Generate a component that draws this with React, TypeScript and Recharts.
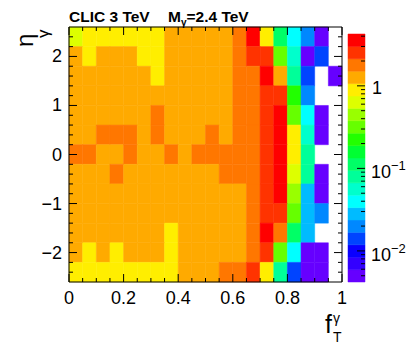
import React from 'react';
import { ComposedChart, XAxis, YAxis, ReferenceArea } from 'recharts';

// ---- bins ----
const F_EDGES = [0, 0.05, 0.1, 0.15, 0.2, 0.25, 0.3, 0.35, 0.4, 0.45, 0.5, 0.55, 0.6, 0.65, 0.7, 0.75, 0.8, 0.85, 0.9, 0.95, 1];
const ETA_EDGES = [2.6, 2.2, 1.8, 1.4, 1.0, 0.6, 0.2, -0.2, -0.6, -1.0, -1.4, -1.8, -2.2, -2.6];

// ---- bin contents, one array per eta row (top to bottom), f_T bins left to right ----
const ROW_ETA_2p2_2p6 = [0.63, 0.9, 0.9, 0.9, 0.9, 0.9, 0.9, 1.27, 1.27, 1.27, 1.27, 1.27, 1.8, 3.6, 0.9, 0.11, 0.04, 0.02, 0.005, 0];
const ROW_ETA_1p8_2p2 = [1.27, 0.9, 1.27, 1.27, 1.27, 0.9, 0.9, 1.27, 1.27, 1.27, 1.27, 1.27, 1.8, 2.5, 2.5, 0.32, 0.056, 0.005, 0.014, 0];
const ROW_ETA_1p4_1p8 = [1.27, 1.27, 1.27, 1.27, 1.27, 1.27, 0.9, 1.27, 1.27, 1.27, 1.27, 1.27, 1.8, 1.8, 3.6, 1.27, 0.08, 0.014, 0, 0.005];
const ROW_ETA_1p0_1p4 = [1.27, 1.27, 1.27, 1.27, 1.27, 1.27, 1.27, 1.27, 1.27, 1.27, 1.27, 1.27, 1.8, 1.8, 2.5, 2.5, 0.22, 0.02, 0, 0];
const ROW_ETA_0p6_1p0 = [1.27, 1.27, 1.27, 1.27, 1.27, 1.27, 1.8, 1.27, 1.27, 1.27, 1.27, 1.27, 1.8, 1.8, 2.5, 3.6, 0.32, 0.04, 0.005, 0];
const ROW_ETA_0p2_0p6 = [1.27, 1.27, 1.8, 1.8, 1.8, 1.27, 1.8, 1.27, 1.27, 1.27, 1.8, 1.27, 1.8, 1.8, 2.5, 3.6, 0.9, 0.056, 0.005, 0];
const ROW_ETA_m0p2_0p2 = [1.8, 1.8, 1.27, 1.27, 1.8, 1.27, 1.27, 1.8, 1.27, 1.8, 1.8, 1.8, 1.8, 1.8, 2.5, 3.6, 0.9, 0.08, 0, 0];
const ROW_ETA_m0p6_m0p2 = [1.27, 1.27, 1.27, 1.8, 1.27, 1.27, 1.27, 1.27, 1.27, 1.27, 1.27, 1.8, 1.8, 1.8, 2.5, 3.6, 0.63, 0.08, 0.005, 0];
const ROW_ETA_m1p0_m0p6 = [1.27, 1.27, 1.27, 1.27, 1.27, 1.27, 1.27, 1.27, 1.27, 1.27, 1.27, 1.27, 1.27, 1.8, 2.5, 3.6, 0.45, 0.028, 0.005, 0];
const ROW_ETA_m1p4_m1p0 = [1.27, 1.27, 1.27, 1.27, 1.27, 1.27, 1.27, 1.27, 1.27, 1.27, 1.27, 1.27, 1.27, 1.8, 2.5, 2.5, 0.32, 0.028, 0.02, 0];
const ROW_ETA_m1p8_m1p4 = [1.27, 1.27, 1.27, 1.27, 1.27, 1.27, 1.27, 0.9, 1.27, 1.27, 1.27, 1.27, 1.27, 1.8, 3.6, 1.8, 0.11, 0.028, 0, 0];
const ROW_ETA_m2p2_m1p8 = [1.27, 0.9, 1.27, 0.9, 1.27, 1.27, 1.27, 0.9, 1.27, 1.27, 1.27, 1.27, 1.27, 1.8, 2.5, 0.32, 0.04, 0.005, 0.005, 0];
const ROW_ETA_m2p6_m2p2 = [0.9, 0.9, 0.9, 0.9, 0.9, 0.9, 0.9, 0.9, 1.27, 1.27, 1.27, 1.8, 1.8, 2.5, 0.9, 0.08, 0.014, 0.005, 0.005, 0];

const ROWS = [
  ROW_ETA_2p2_2p6, ROW_ETA_1p8_2p2, ROW_ETA_1p4_1p8, ROW_ETA_1p0_1p4, ROW_ETA_0p6_1p0,
  ROW_ETA_0p2_0p6, ROW_ETA_m0p2_0p2, ROW_ETA_m0p6_m0p2, ROW_ETA_m1p0_m0p6, ROW_ETA_m1p4_m1p0,
  ROW_ETA_m1p8_m1p4, ROW_ETA_m2p2_m1p8, ROW_ETA_m2p6_m2p2,
];

// ---- axis ticks ----
const X_TICKS = [0, 0.05, 0.1, 0.15, 0.2, 0.25, 0.3, 0.35, 0.4, 0.45, 0.5, 0.55, 0.6, 0.65, 0.7, 0.75, 0.8, 0.85, 0.9, 0.95, 1];
const X_MAJOR = [0, 0.2, 0.4, 0.6, 0.8, 1];
const X_LABELS = ['0', '0.2', '0.4', '0.6', '0.8', '1'];
const Y_TICKS = [-2.4, -2.2, -2, -1.8, -1.6, -1.4, -1.2, -1, -0.8, -0.6, -0.4, -0.2, 0, 0.2, 0.4, 0.6, 0.8, 1, 1.2, 1.4, 1.6, 1.8, 2, 2.2, 2.4];
const Y_MAJOR = [-2, -1, 0, 1, 2];
const Y_LABELS = ['\u22122', '\u22121', '0', '1', '2'];

// ---- colour scale ----
const Z_MIN = 0.0042;
const Z_MAX = 4.25;
const PALETTE = [
  '#6600ff', '#3300ff', '#0a00ff', '#0044ff', '#0088ff', '#00bbff', '#00ffff', '#00ffcc', '#00ff99', '#00ff66',
  '#00ff33', '#22ff00', '#66ff00', '#99ff00', '#ddff00', '#ffee00', '#ffaa00', '#ff7700', '#ff3300', '#ff0000',
];
const Z_MAJOR = [0.01, 0.1, 1];
const Z_MAJOR_EXP = [-2, -1, 0];
const Z_MINOR = [0.005, 0.006, 0.007, 0.008, 0.009, 0.02, 0.03, 0.04, 0.05, 0.06, 0.07, 0.08, 0.09, 0.2, 0.3, 0.4, 0.5, 0.6, 0.7, 0.8, 0.9, 2, 3, 4];

const LMIN = Math.log10(Z_MIN);
const LMAX = Math.log10(Z_MAX);
const NB = PALETTE.length;
const colorFor = (v: number) => {
  let k = Math.floor(((Math.log10(v) - LMIN) / (LMAX - LMIN)) * NB);
  if (k < 0) k = 0;
  if (k > NB - 1) k = NB - 1;
  return PALETTE[k];
};
const BAND_EDGES = PALETTE.map((_, k) => Math.pow(10, LMIN + ((LMAX - LMIN) * k) / NB)).concat([Z_MAX]);

// ---- layout ----
const W = 407;
const H = 344;
const PL = 69;
const PR = 342;
const PT = 27;
const PB = 282;
const BAR_T = 34;
const BAR_L = 348;
const BAR_R = 365;
const FONT = '"Liberation Sans", Arial, Helvetica, sans-serif';
const TICK_FS = 18;

const isIn = (v: number, arr: number[]) => arr.findIndex((m) => Math.abs(m - v) < 1e-6);

const XTick = (props: any) => {
  const x = props.x;
  const v = props.payload.value;
  const i = isIn(v, X_MAJOR);
  const len = i >= 0 ? 8 : 4;
  return (
    <g>
      <line x1={x} x2={x} y1={PB} y2={PB - len} stroke="#000" strokeWidth={1} />
      <line x1={x} x2={x} y1={PT} y2={PT + len} stroke="#000" strokeWidth={1} />
      {i >= 0 ? (
        <text x={x} y={PB + 22} textAnchor="middle" fontSize={TICK_FS} fontFamily={FONT} fill="#000">
          {X_LABELS[i]}
        </text>
      ) : null}
    </g>
  );
};

const YTick = (props: any) => {
  const y = props.y;
  const v = props.payload.value;
  const i = isIn(v, Y_MAJOR);
  const len = i >= 0 ? 8 : 4;
  return (
    <g>
      <line x1={PL} x2={PL + len} y1={y} y2={y} stroke="#000" strokeWidth={1} />
      <line x1={PR} x2={PR - len} y1={y} y2={y} stroke="#000" strokeWidth={1} />
      {i >= 0 ? (
        <text x={PL - 7} y={y + 6} textAnchor="end" fontSize={TICK_FS} fontFamily={FONT} fill="#000">
          {Y_LABELS[i]}
        </text>
      ) : null}
    </g>
  );
};

const ZTick = (props: any) => {
  const y = props.y;
  const v = props.payload.value;
  const i = isIn(v, Z_MAJOR);
  const len = i >= 0 ? 8 : 4;
  return (
    <g>
      <line x1={BAR_R} x2={BAR_R - len} y1={y} y2={y} stroke="#000" strokeWidth={1} />
      {i >= 0 ? (
        Z_MAJOR_EXP[i] === 0 ? (
          <text x={BAR_R + 7} y={y + 8} fontSize={TICK_FS} fontFamily={FONT} fill="#000">1</text>
        ) : (
          <text x={BAR_R + 6} y={y + 10} fontSize={TICK_FS} fontFamily={FONT} fill="#000">
            10
            <tspan dy={-8} fontSize={13}>{'\u2212' + String(-Z_MAJOR_EXP[i])}</tspan>
          </text>
        )
      ) : null}
    </g>
  );
};

export default function App() {
  const cells: React.ReactNode[] = [];
  ROWS.forEach((row, r) => {
    row.forEach((v, c) => {
      if (v > 0) {
        const col = colorFor(v);
        cells.push(
          <ReferenceArea
            key={`c-${r}-${c}`}
            x1={F_EDGES[c]}
            x2={F_EDGES[c + 1]}
            y1={ETA_EDGES[r + 1]}
            y2={ETA_EDGES[r]}
            fill={col}
            fillOpacity={1}
            stroke={col}
            strokeWidth={0.5}
            ifOverflow="visible"
          />
        );
      }
    });
  });

  return (
    <div style={{ position: 'absolute', left: 0, top: 0, width: W, height: H, background: '#fff' }}>
      <div style={{ position: 'absolute', left: 0, top: 0 }}>
        <ComposedChart width={W} height={H} margin={{ top: PT, right: W - PR, left: 0, bottom: 0 }}>
          {cells}
          <ReferenceArea x1={0} x2={1} y1={-2.6} y2={2.6} fill="none" fillOpacity={0} stroke="#000" strokeWidth={1} ifOverflow="visible" />
          <XAxis
            type="number"
            dataKey="x"
            domain={[0, 1]}
            allowDataOverflow
            ticks={X_TICKS}
            interval={0}
            height={H - PB}
            tickSize={0}
            tickMargin={0}
            tickLine={false}
            axisLine={false}
            tick={<XTick />}
          />
          <YAxis
            type="number"
            dataKey="y"
            domain={[-2.6, 2.6]}
            allowDataOverflow
            ticks={Y_TICKS}
            interval={0}
            width={PL}
            tickSize={0}
            tickMargin={0}
            tickLine={false}
            axisLine={false}
            tick={<YTick />}
          />
        </ComposedChart>
      </div>
      <div style={{ position: 'absolute', left: 0, top: 0 }}>
        <ComposedChart width={W} height={H} margin={{ top: BAR_T, right: 0, left: BAR_L, bottom: H - PB }}>
          {PALETTE.map((col, k) => (
            <ReferenceArea
              key={`b-${k}`}
              x1={0}
              x2={1}
              y1={BAND_EDGES[k]}
              y2={BAND_EDGES[k + 1]}
              fill={col}
              fillOpacity={1}
              stroke={col}
              strokeWidth={0.5}
              ifOverflow="visible"
            />
          ))}
          <XAxis type="number" dataKey="x" domain={[0, 1]} hide allowDataOverflow />
          <YAxis
            type="number"
            dataKey="z"
            scale="log"
            orientation="right"
            domain={[Z_MIN, Z_MAX]}
            allowDataOverflow
            ticks={[...Z_MINOR, ...Z_MAJOR]}
            interval={0}
            width={W - BAR_R}
            tickSize={0}
            tickMargin={0}
            tickLine={false}
            axisLine={false}
            tick={<ZTick />}
          />
        </ComposedChart>
      </div>
      <svg width={W} height={H} style={{ position: 'absolute', left: 0, top: 0 }}>
        <text x={69} y={22} fontSize={15.5} fontWeight="bold" fontFamily={FONT} fill="#000">
          CLIC 3 TeV
        </text>
        <text x={168} y={22} fontSize={15.5} fontWeight="bold" fontFamily={FONT} fill="#000">
          M<tspan dy={4} fontSize={10}>γ</tspan>
          <tspan dy={-4}>=2.4 TeV</tspan>
        </text>
        <text transform="translate(32.5,47) rotate(-90)" fontSize={24} fontFamily={FONT} fill="#000">η</text>
        <text transform="translate(48.5,38) rotate(-90)" fontSize={17} fontFamily={FONT} fill="#000">γ</text>
        <text x={325} y={333} fontSize={25} fontFamily={FONT} fill="#000">f</text>
        <text x={333} y={323} fontSize={14} fontFamily={FONT} fill="#000">γ</text>
        <text x={333} y={342} fontSize={14} fontFamily={FONT} fill="#000">T</text>
      </svg>
    </div>
  );
}
